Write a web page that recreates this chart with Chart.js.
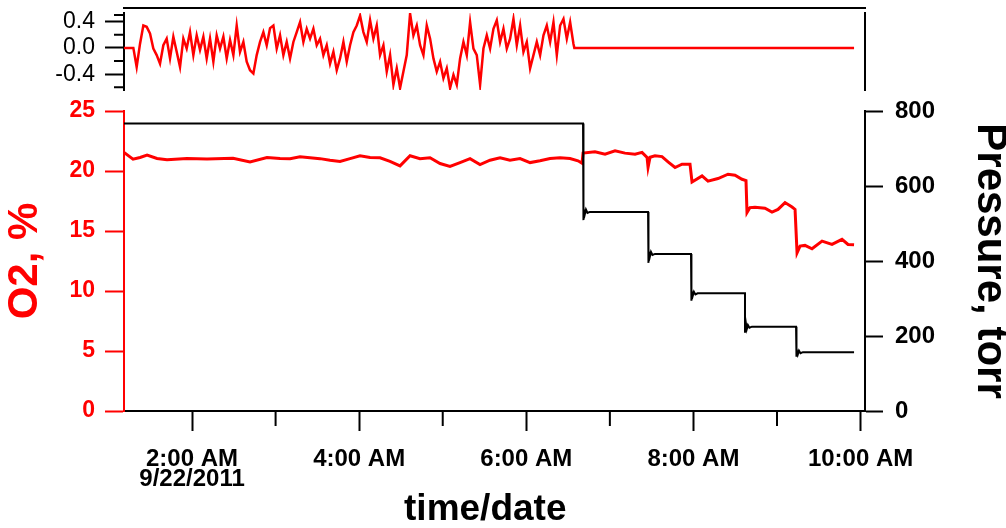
<!DOCTYPE html>
<html><head><meta charset="utf-8">
<script src="https://cdn.jsdelivr.net/npm/chart.js@4.4.1/dist/chart.umd.min.js"></script>
<style>
html,body{margin:0;padding:0;background:#fff;}
#wrap{position:relative;width:1006px;height:528px;overflow:hidden;}
canvas{position:absolute;left:0;top:0;}
</style></head><body>
<div id="wrap">
<canvas id="main" width="1006" height="528"></canvas>
<canvas id="top" width="1006" height="100"></canvas>
</div>
<script>
// ---- data (time in hours of 9/22/2011) ----
const topSampleStart = 1.178;   // first residual sample, h
const topSampleStep = 0.0399;   // sampling interval, h
const topResidual = [
  0, 0, 0, 0, -0.29, 0.06, 0.34, 0.32, 0.22, -0.01, -0.11, -0.24, 0.04, 0.14, -0.16, 0.17, -0.06, -0.29, 0.14, -0.01,
  0.24, -0.11, 0.19, -0.03, 0.17, -0.16, 0.14, -0.21, 0.19, -0.01, 0.17, -0.16, 0.12, -0.11, 0.34, -0.06, 0.09, -0.21, -0.34, -0.39,
  -0.11, 0.09, 0.24, 0.04,
  0.30, 0.34, -0.01, 0.19, -0.11, 0.09, -0.16, 0.09, 0.24, 0.39, 0.09, 0.29, 0.14, 0.29, 0.04, 0.14, -0.11, 0.04, -0.24, -0.06,
  -0.34, -0.16, 0.09, -0.21, 0.04, 0.24, 0.34, 0.49, 0.24, 0.09, 0.42, 0.14, 0.34, -0.11, 0.04, -0.36, -0.11, -0.56, -0.31, -0.61,
  -0.36, -0.11, 0.52, 0.19, 0.34,
  0.04, -0.11, 0.34, 0.14, -0.16, -0.36, -0.21, -0.46, -0.31, -0.61, -0.41, -0.56, -0.16, 0.09, -0.11, 0.39, -0.01, -0.11, -0.56, -0.01,
  0.19, -0.01, 0.29, 0.42, 0.09, 0.29, -0.01, 0.14, 0.44, 0.04, 0.34, -0.06, 0.09, -0.31, -0.11, 0.09, -0.11, 0.19, 0.34, 0.09,
  0.39, -0.11, 0.34, 0.44, 0.14, 0.39, 0.06
];
const topTailTimes = [6.575, 9.922];
const topTailValues = [0, 0];

const o2Times = [1.186, 1.294, 1.378, 1.462, 1.581, 1.701, 1.940, 2.179, 2.491, 2.694, 2.897, 3.053, 3.173, 3.292, 3.412, 3.532, 3.651, 3.771, 3.891, 4.010,
  4.130, 4.250, 4.369, 4.489, 4.609, 4.728, 4.848, 4.968, 5.087, 5.207, 5.327, 5.446, 5.566, 5.686, 5.805, 5.925, 6.045, 6.164, 6.284, 6.404,
  6.523, 6.619, 6.667, 6.679, 6.822, 6.942, 7.062, 7.181, 7.301, 7.385, 7.445, 7.457, 7.481, 7.540, 7.624, 7.696, 7.780, 7.863, 7.959, 7.983,
  8.103, 8.174, 8.294, 8.414, 8.498, 8.581, 8.629, 8.641, 8.677, 8.737, 8.856, 8.940, 9.012, 9.096, 9.180, 9.216, 9.240, 9.276, 9.335, 9.419,
  9.539, 9.658, 9.778, 9.850, 9.922];
const o2Values = [21.55, 20.99, 21.13, 21.32, 21.04, 20.93, 21.04, 20.99, 21.07, 20.76, 21.13, 21.04, 21.03, 21.18, 21.10, 21.03, 20.90, 20.79, 21.03, 21.27,
  21.12, 21.10, 20.80, 20.43, 21.27, 21.03, 21.10, 20.62, 20.38, 20.70, 21.03, 20.54, 20.90, 21.10, 20.90, 21.03, 20.70, 20.85, 21.04, 21.10,
  21.04, 20.85, 20.65, 21.49, 21.60, 21.40, 21.68, 21.49, 21.40, 21.55, 21.13, 20.30, 21.15, 21.26, 21.20, 20.76, 20.29, 20.57, 20.57, 19.09,
  19.59, 19.15, 19.37, 19.73, 19.65, 19.31, 19.20, 16.53, 16.95, 16.98, 16.90, 16.58, 16.80, 17.37, 17.00, 16.80, 13.18, 13.74, 13.80, 13.52,
  14.16, 13.88, 14.30, 13.88, 13.85];

const pressureTimes = [1.186, 6.679, 6.679, 6.689, 6.700, 6.714, 6.732, 6.76,
  7.457, 7.457, 7.467, 7.478, 7.492, 7.510, 7.54,
  7.971, 7.971, 7.981, 7.992, 8.006, 8.024, 8.05,
  8.617, 8.617, 8.627, 8.638, 8.652, 8.670, 8.70,
  9.228, 9.228, 9.238, 9.249, 9.263, 9.281, 9.31, 9.922];
const pressureValues = [767, 767, 509, 541, 524, 537, 528, 531,
  531, 395, 428, 411, 424, 416, 419,
  419, 294, 322, 307, 318, 311, 314,
  314, 209, 235, 218, 229, 222, 225,
  225, 145, 166, 151, 161, 154, 157, 157];

const xTickHours = [2, 3, 4, 5, 6, 7, 8, 9, 10];
const xTickLabels = [['2:00 AM', '9/22/2011'], '', '4:00 AM', '', '6:00 AM', '', '8:00 AM', '', '10:00 AM'];
const o2Ticks = [0, 5, 10, 15, 20, 25];
const pressureTicks = [0, 200, 400, 600, 800];
const topMajorTicks = [-0.4, 0, 0.4];
const topMajorLabels = ['-0.4', '0.0', '0.4'];
const topMinorTicks = [-0.6, -0.2, 0.2, 0.5];

// ---- setup ----
const FONT = '"Liberation Sans", Arial, sans-serif';
Chart.defaults.font.family = FONT;
Chart.defaults.color = '#000';
const RED = '#ff0000';
const X_MIN = 1.186, X_MAX = 10.053;

function fixWidth(w) {
  return s => { s.width = w; s.paddingTop = 0; s.paddingBottom = 0; };
}

const minorTicksPlugin = {
  id: 'minorTicks',
  afterDraw(chart, args, opts) {
    const ctx = chart.ctx;
    (opts.items || []).forEach(item => {
      const scale = chart.scales[item.scaleId];
      ctx.save();
      ctx.strokeStyle = item.color;
      ctx.lineWidth = item.width;
      ctx.beginPath();
      item.values.forEach(v => {
        const p = scale.getPixelForValue(v);
        if (scale.isHorizontal()) { ctx.moveTo(p, scale.top); ctx.lineTo(p, scale.top + item.length); }
        else if (scale.position === 'left') { ctx.moveTo(scale.right, p); ctx.lineTo(scale.right - item.length, p); }
        else { ctx.moveTo(scale.left, p); ctx.lineTo(scale.left + item.length, p); }
      });
      ctx.stroke();
      ctx.restore();
    });
    if (opts.frameGap) {
      const a = chart.chartArea;
      ctx.save();
      ctx.strokeStyle = '#000';
      ctx.lineWidth = 2;
      ctx.beginPath();
      ctx.moveTo(a.left - 1, a.top - opts.frameGap);
      ctx.lineTo(a.right + 1, a.top - opts.frameGap);
      ctx.stroke();
      ctx.restore();
    }
  }
};

// ---- main chart ----
new Chart(document.getElementById('main'), {
  type: 'line',
  data: {
    datasets: [
      { label: 'Pressure', yAxisID: 'yP', borderColor: '#000', borderWidth: 2,
        data: pressureTimes.map((t, i) => ({ x: t, y: pressureValues[i] })) },
      { label: 'O2', yAxisID: 'yO2', borderColor: RED, borderWidth: 3,
        data: o2Times.map((t, i) => ({ x: t, y: o2Values[i] })) }
    ]
  },
  options: {
    responsive: false, animation: false, devicePixelRatio: 1,
    layout: { padding: { top: 111, left: 0, right: 0, bottom: 0 } },
    elements: { point: { radius: 0 }, line: { tension: 0 } },
    plugins: {
      legend: { display: false }, tooltip: { enabled: false },
      minorTicks: { items: [ { scaleId: 'x', values: xTickHours.filter((h, i) => xTickLabels[i] === ''), length: 15, color: '#000', width: 2 } ] }
    },
    scales: {
      x: {
        type: 'linear', position: 'bottom', min: X_MIN, max: X_MAX,
        afterFit: s => { s.height = 117; },
        afterBuildTicks: s => { s.ticks = xTickHours.map(v => ({ value: v })); },
        ticks: { autoSkip: false, maxRotation: 0, padding: 18, color: '#000',
          font: { size: 24, weight: 'bold', lineHeight: 0.85 },
          callback: (v, i) => xTickLabels[i] },
        grid: { drawOnChartArea: false, tickLength: 20, tickWidth: 2,
          tickColor: c => (xTickLabels[c.index] === '' ? 'rgba(0,0,0,0)' : '#000') },
        border: { display: true, color: '#000', width: 2 },
        title: { display: true, text: 'time/date\u2002', color: '#000',
          font: { size: 37, weight: 'bold', lineHeight: 1 }, padding: { top: 0, bottom: 0 } }
      },
      yO2: {
        type: 'linear', position: 'left', min: 0, max: 25,
        afterFit: fixWidth(124),
        afterBuildTicks: s => { s.ticks = o2Ticks.map(v => ({ value: v })); },
        ticks: { color: RED, padding: 10, font: { size: 23, weight: 'bold' } },
        grid: { drawOnChartArea: false, tickLength: 19, tickWidth: 2, tickColor: RED },
        border: { display: true, color: RED, width: 2 },
        title: { display: true, text: 'O2, %', color: RED,
          font: { size: 42, weight: 'bold', lineHeight: 1 }, padding: { top: 4, bottom: 0 } }
      },
      yP: {
        type: 'linear', position: 'right', min: 0, max: 800,
        afterFit: fixWidth(141),
        afterBuildTicks: s => { s.ticks = pressureTicks.map(v => ({ value: v })); },
        ticks: { color: '#000', padding: 12, font: { size: 24, weight: 'bold' } },
        grid: { drawOnChartArea: false, tickLength: 18, tickWidth: 2, tickColor: '#000' },
        border: { display: true, color: '#000', width: 2 },
        title: { display: true, text: 'Pressure, torr', color: '#000',
          font: { size: 42, weight: 'bold', lineHeight: 0.78 }, padding: { top: 0, bottom: 0 } }
      }
    }
  },
  plugins: [minorTicksPlugin]
});

// ---- top residual chart ----
const topData = topResidual.map((v, i) => ({ x: topSampleStart + i * topSampleStep, y: v }))
  .concat(topTailTimes.map((t, i) => ({ x: t, y: topTailValues[i] })));

new Chart(document.getElementById('top'), {
  type: 'line',
  data: { datasets: [ { label: 'residual', yAxisID: 'y', borderColor: RED, borderWidth: 2.5, data: topData } ] },
  options: {
    responsive: false, animation: false, devicePixelRatio: 1,
    layout: { autoPadding: false, padding: { top: 13, left: 0, right: 0, bottom: 10 } },
    elements: { point: { radius: 0 }, line: { tension: 0 } },
    plugins: {
      legend: { display: false }, tooltip: { enabled: false },
      minorTicks: { frameGap: 5, items: [ { scaleId: 'y', values: topMinorTicks, length: 10, color: '#000', width: 2 } ] }
    },
    scales: {
      x: { type: 'linear', min: X_MIN, max: X_MAX, display: false },
      y: {
        type: 'linear', position: 'left', min: -0.64, max: 0.53,
        afterFit: fixWidth(124),
        afterBuildTicks: s => { s.ticks = topMajorTicks.map(v => ({ value: v })); },
        ticks: { color: '#000', padding: 10, font: { size: 23, weight: 'normal' },
          callback: (v, i) => topMajorLabels[i] },
        grid: { drawOnChartArea: false, tickLength: 19, tickWidth: 2, tickColor: '#000' },
        border: { display: true, color: '#000', width: 2 }
      },
      yr: {
        type: 'linear', position: 'right', min: 0, max: 1,
        afterFit: fixWidth(141),
        ticks: { display: false },
        grid: { display: false },
        border: { display: true, color: '#000', width: 2 }
      }
    }
  },
  plugins: [minorTicksPlugin]
});
</script>
</body></html>
